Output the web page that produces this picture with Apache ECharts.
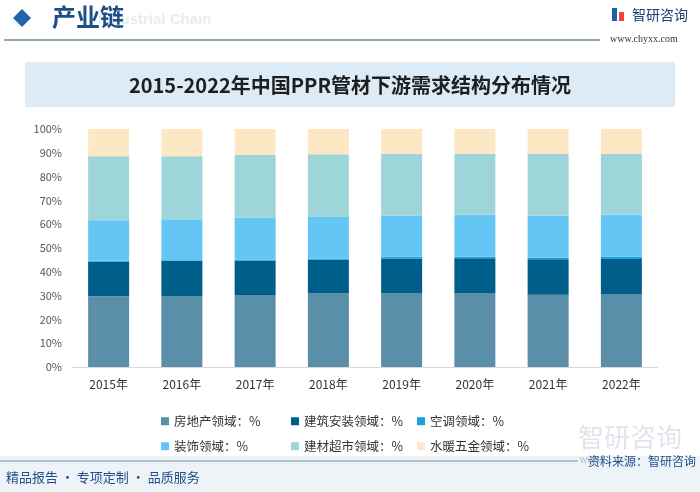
<!DOCTYPE html>
<html><head><meta charset="utf-8">
<script src="https://cdn.jsdelivr.net/npm/echarts@6/dist/echarts.min.js"></script>
<style>html,body{margin:0;padding:0;background:#fff}#c{width:700px;height:492px}</style>
</head><body><div id="c"></div>
<script>
const years = ['2015年','2016年','2017年','2018年','2019年','2020年','2021年','2022年'];
const realEstate = [29.7, 29.8, 30.3, 30.9, 30.9, 31.1, 30.4, 30.7];
const construction = [14.5, 14.7, 14.5, 14.2, 14.7, 14.6, 14.9, 14.7];
const airCon = [0.4, 0.4, 0.4, 0.5, 0.7, 0.6, 0.7, 0.9];
const decoration = [17.1, 17.2, 17.6, 17.4, 17.3, 17.7, 17.6, 17.8];
const buildingMarket = [26.9, 26.5, 26.3, 26.4, 25.9, 25.5, 25.9, 25.4];
const plumbing = [11.4, 11.4, 10.9, 10.6, 10.5, 10.5, 10.5, 10.5];
const yTicks = ['0%','10%','20%','30%','40%','50%','60%','70%','80%','90%','100%'];

const seriesDefs = [
  {name:'房地产领域：%', data:realEstate, color:'#5b8ea9'},
  {name:'建筑安装领域：%', data:construction, color:'#005e8a'},
  {name:'空调领域：%', data:airCon, color:'#1aa2da'},
  {name:'装饰领域：%', data:decoration, color:'#63c6f5'},
  {name:'建材超市领域：%', data:buildingMarket, color:'#9ed5d9'},
  {name:'水暖五金领域：%', data:plumbing, color:'#fde8c6'}
];
const legendPos = [[156,410],[286,410],[412,410],[156,435],[286,435],[412,435]];

const chart = echarts.init(document.getElementById('c'));
chart.setOption({
  animation:false,
  backgroundColor:'#fff',
  textStyle:{fontFamily:'"Noto Sans CJK SC", "Noto Sans", sans-serif'},
  grid:{left:72, right:42, top:129, bottom:125},
  legend: seriesDefs.map((s,i)=>({
    data:[s.name], left:legendPos[i][0], top:legendPos[i][1],
    itemWidth:8, itemHeight:8, icon:'rect',
    textStyle:{fontSize:12.5, color:'#333', fontFamily:'"Noto Sans CJK SC", sans-serif'}
  })),
  xAxis:{type:'category', data:years,
    axisLine:{lineStyle:{color:'#d9d9d9'}}, axisTick:{show:false},
    axisLabel:{color:'#333', fontSize:12, margin:11}},
  yAxis:{type:'value', min:0, max:100, interval:10,
    axisLine:{show:false}, axisTick:{show:false}, splitLine:{show:false},
    axisLabel:{color:'#555', fontSize:11, margin:10, formatter:(v)=>yTicks[Math.round(v/10)]}},
  series: seriesDefs.map(s=>({
    type:'bar', name:s.name, data:s.data, stack:'total', barWidth:41,
    itemStyle:{color:s.color}
  })),
  graphic:[
    {type:'rect', shape:{x:0,y:456,width:700,height:36}, style:{fill:'#eef3f8'}, z:-1},
    {type:'polygon', shape:{points:[[22,9],[31,18],[22,27],[13,18]]}, style:{fill:'#1f66ad'}},
    {type:'text', left:98, top:12, style:{text:'Industrial Chain', fontSize:15, fontWeight:'bold', fill:'rgba(170,195,215,0.3)', fontFamily:'Arial, sans-serif'}},
    {type:'text', left:52, top:5, style:{text:'产业链', fontSize:24, fontWeight:'bold', fill:'#1c4f86', fontFamily:'"Noto Sans CJK SC", sans-serif'}},
    {type:'line', shape:{x1:4,y1:40,x2:600,y2:40}, style:{stroke:'#6e8893', lineWidth:1.5}},
    {type:'rect', shape:{x:612,y:8,width:5,height:13}, style:{fill:'#1d5fa8'}},
    {type:'rect', shape:{x:619,y:12,width:5,height:9}, style:{fill:'#e84b3c'}},
    {type:'text', left:632, top:8, style:{text:'智研咨询', fontSize:14, fill:'#1d3f73', fontFamily:'"Noto Sans CJK SC", sans-serif'}},
    {type:'text', left:610, top:34, style:{text:'www.chyxx.com', fontSize:10, fill:'#333', fontFamily:'"Liberation Serif", serif'}},
    {type:'rect', shape:{x:25,y:62,width:650,height:45}, style:{fill:'#dcebf6'}},
    {type:'text', x:350, y:85, style:{text:'2015-2022年中国PPR管材下游需求结构分布情况', fontSize:20, fontWeight:'bold', fill:'#1e1e1e', align:'center', verticalAlign:'middle', fontFamily:'"Noto Sans CJK SC", sans-serif'}},
    {type:'text', left:578, top:424, style:{text:'智研咨询', fontSize:26, fill:'rgba(150,170,190,0.3)', fontFamily:'"Noto Sans CJK SC", sans-serif'}},
    {type:'line', shape:{x1:0,y1:461,x2:578,y2:461}, style:{stroke:'#7a8f99', lineWidth:1}},
    {type:'text', left:580, top:455, style:{text:'www.', fontSize:10, fill:'#b5c2cc'}},
    {type:'text', right:4, top:455, style:{text:'资料来源：智研咨询', fontSize:12, fill:'#1f4e8c', fontFamily:'"Noto Sans CJK SC", sans-serif'}},
    {type:'text', left:6, top:471, style:{text:'精品报告 · 专项定制 · 品质服务', fontSize:13, fill:'#1f4e8c', fontFamily:'"Noto Sans CJK SC", sans-serif'}}
  ]
});
</script></body></html>
